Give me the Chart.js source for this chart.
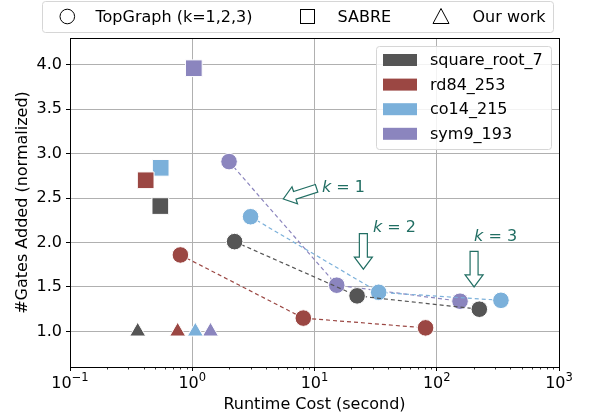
<!DOCTYPE html>
<html>
<head>
<meta charset="utf-8">
<script src="https://cdn.jsdelivr.net/npm/chart.js@4.4.0/dist/chart.umd.min.js"></script>
<style>
  html, body { margin: 0; padding: 0; background: #fff; }
  #wrap { width: 590px; height: 419px; }
</style>
</head>
<body>
<div id="wrap"><canvas id="c" width="590" height="419"></canvas></div>
<script>
const circuits = ['square_root_7', 'rd84_253', 'co14_215', 'sym9_193'];
const colors = ['#555555', '#9b4743', '#7bb0da', '#8b85be'];

// TopGraph, k = 1, 2, 3 (runtime in s, gates normalized)
const topgraphTime = [[2.22, 22.3, 223], [0.80, 8.1, 81], [3.0, 33.5, 335], [2.0, 15.2, 155]];
const topgraphGates = [[2.01, 1.40, 1.25], [1.86, 1.15, 1.04], [2.29, 1.44, 1.35], [2.91, 1.52, 1.34]];
// SABRE
const sabreTime = [0.548, 0.416, 0.552, 1.03];
const sabreGates = [2.41, 2.70, 2.84, 3.96];
// Our work
const oursTime = [0.358, 0.76, 1.06, 1.41];
const oursGates = [1.0, 1.0, 1.0, 1.0];

const xTickValues = [0.1, 1, 10, 100, 1000];
const xTickExponents = ['−1', '0', '1', '2', '3'];
const yTickValues = [1.0, 1.5, 2.0, 2.5, 3.0, 3.5, 4.0];

const shapeLabels = ['TopGraph (k=1,2,3)', 'SABRE', 'Our work'];
const kLabels = ['1', '2', '3'];
// annotation arrows (data coords)
const kArrowFrom = [[10.4, 2.61], [25.1, 2.10], [202, 1.90]];
const kArrowTo = [[5.56, 2.49], [25.1, 1.70], [202, 1.50]];
const kTextAt = [[11.5, 2.62], [30.1, 2.16], [202, 2.06]];

const FONT = "'DejaVu Sans', sans-serif";
const TEAL = '#216e63';

const datasets = [];
circuits.forEach((name, i) => {
  datasets.push({
    label: name,
    data: topgraphTime[i].map((t, j) => ({ x: t, y: topgraphGates[i][j] })),
    showLine: true,
    borderColor: colors[i],
    borderWidth: 1.2,
    borderDash: [4, 3],
    pointStyle: 'circle',
    pointRadius: 8.3,
    pointBackgroundColor: colors[i],
    pointBorderColor: '#ffffff',
    pointBorderWidth: 1
  });
  datasets.push({
    label: name + ' SABRE',
    data: [{ x: sabreTime[i], y: sabreGates[i] }],
    pointStyle: 'rect',
    pointRadius: 11.8,
    pointBackgroundColor: colors[i],
    pointBorderColor: '#ffffff',
    pointBorderWidth: 1
  });
  datasets.push({
    label: name + ' ours',
    data: [{ x: oursTime[i], y: oursGates[i] }],
    pointStyle: 'triangle',
    pointRadius: 9.2,
    pointBackgroundColor: colors[i],
    pointBorderColor: '#ffffff',
    pointBorderWidth: 1
  });
});

function drawArrow(ctx, x0, y0, x1, y1) {
  const dx = x1 - x0, dy = y1 - y0;
  const len = Math.hypot(dx, dy);
  const ux = dx / len, uy = dy / len;
  const nx = -uy, ny = ux;
  const sw = 4, hw = 9, hl = 12;
  const bx = x1 - ux * hl, by = y1 - uy * hl;
  ctx.beginPath();
  ctx.moveTo(x0 + nx * sw, y0 + ny * sw);
  ctx.lineTo(bx + nx * sw, by + ny * sw);
  ctx.lineTo(bx + nx * hw, by + ny * hw);
  ctx.lineTo(x1, y1);
  ctx.lineTo(bx - nx * hw, by - ny * hw);
  ctx.lineTo(bx - nx * sw, by - ny * sw);
  ctx.lineTo(x0 - nx * sw, y0 - ny * sw);
  ctx.closePath();
  ctx.fillStyle = '#ffffff';
  ctx.fill();
  ctx.strokeStyle = TEAL;
  ctx.lineWidth = 1.2;
  ctx.stroke();
}

const extrasPlugin = {
  id: 'extras',
  afterDraw(chart) {
    const ctx = chart.ctx;
    const xs = chart.scales.x, ys = chart.scales.y;
    const area = chart.chartArea;
    ctx.save();

    // minor ticks on log axis
    ctx.strokeStyle = '#000';
    ctx.lineWidth = 0.8;
    for (let d = -1; d < 3; d++) {
      for (let m = 2; m <= 9; m++) {
        const px = Math.round(xs.getPixelForValue(m * Math.pow(10, d))) + 0.5;
        ctx.beginPath();
        ctx.moveTo(px, area.bottom);
        ctx.lineTo(px, area.bottom + 2.5);
        ctx.stroke();
      }
    }

    // x tick labels: 10 with superscript exponent
    ctx.fillStyle = '#000';
    ctx.textBaseline = 'alphabetic';
    ctx.textAlign = 'left';
    xTickValues.forEach((v, i) => {
      const px = xs.getPixelForValue(v);
      ctx.font = '16px ' + FONT;
      const bw = ctx.measureText('10').width;
      ctx.font = '11.5px ' + FONT;
      const ew = ctx.measureText(xTickExponents[i]).width;
      const x0 = px - (bw + ew) / 2;
      const base = area.bottom + 21;
      ctx.font = '16px ' + FONT;
      ctx.fillText('10', x0, base);
      ctx.font = '11.5px ' + FONT;
      ctx.fillText(xTickExponents[i], x0 + bw, base - 7);
    });

    // frame
    ctx.strokeStyle = '#000';
    ctx.lineWidth = 1;
    ctx.strokeRect(Math.round(area.left) + 0.5, Math.round(area.top) + 0.5,
      Math.round(area.right - area.left), Math.round(area.bottom - area.top));

    // k annotations
    for (let i = 0; i < kLabels.length; i++) {
      drawArrow(ctx,
        xs.getPixelForValue(kArrowFrom[i][0]), ys.getPixelForValue(kArrowFrom[i][1]),
        xs.getPixelForValue(kArrowTo[i][0]), ys.getPixelForValue(kArrowTo[i][1]));
      const tx = xs.getPixelForValue(kTextAt[i][0]);
      const ty = ys.getPixelForValue(kTextAt[i][1]);
      ctx.fillStyle = TEAL;
      ctx.textBaseline = 'middle';
      ctx.textAlign = 'left';
      ctx.font = 'italic 16px ' + FONT;
      ctx.fillText('k', tx, ty);
      const kw = ctx.measureText('k').width;
      ctx.font = '16px ' + FONT;
      ctx.fillText(' = ' + kLabels[i], tx + kw, ty);
    }

    // right legend (circuits)
    ctx.beginPath();
    ctx.roundRect(376.5, 46.5, 175, 103, 3);
    ctx.fillStyle = 'rgba(255,255,255,0.85)';
    ctx.fill();
    ctx.strokeStyle = '#d6d6d6';
    ctx.lineWidth = 1;
    ctx.stroke();
    ctx.font = '16px ' + FONT;
    ctx.textBaseline = 'middle';
    ctx.textAlign = 'left';
    circuits.forEach((name, i) => {
      const cy = 60 + i * 24.6;
      ctx.fillStyle = colors[i];
      ctx.fillRect(383, cy - 6, 34, 12);
      ctx.fillStyle = '#000';
      ctx.fillText(name, 430, cy + 1);
    });

    // top legend (shapes)
    ctx.beginPath();
    ctx.roundRect(42.5, 1.5, 511, 31, 3);
    ctx.fillStyle = '#fff';
    ctx.fill();
    ctx.strokeStyle = '#d6d6d6';
    ctx.stroke();
    ctx.strokeStyle = '#000';
    ctx.lineWidth = 1;
    const my = 16.5;
    ctx.beginPath();
    ctx.arc(67.3, my, 7.3, 0, Math.PI * 2);
    ctx.stroke();
    ctx.strokeRect(300.5, my - 7, 14, 14);
    ctx.beginPath();
    ctx.moveTo(441, my - 8);
    ctx.lineTo(449, my + 7);
    ctx.lineTo(433, my + 7);
    ctx.closePath();
    ctx.stroke();
    ctx.fillStyle = '#000';
    ctx.fillText(shapeLabels[0], 95.5, my + 1);
    ctx.fillText(shapeLabels[1], 337.5, my + 1);
    ctx.fillText(shapeLabels[2], 472.5, my + 1);

    ctx.restore();
  }
};

Chart.defaults.font.family = FONT;
Chart.defaults.color = '#000';

new Chart(document.getElementById('c'), {
  type: 'scatter',
  data: { datasets },
  options: {
    responsive: false,
    animation: false,
    events: [],
    layout: { padding: { top: 38, right: 31, left: 0, bottom: 0 } },
    plugins: { legend: { display: false }, tooltip: { enabled: false } },
    scales: {
      x: {
        type: 'logarithmic',
        min: 0.1,
        max: 1000,
        afterBuildTicks: s => { s.ticks = xTickValues.map(v => ({ value: v })); },
        afterFit: s => { s.height = 52; },
        ticks: {
          font: { size: 16 },
          padding: 0,
          maxRotation: 0,
          autoSkip: false,
          callback: () => ''
        },
        grid: { color: '#b0b0b0', lineWidth: 1, tickColor: '#000', tickLength: 4 },
        border: { color: '#000', width: 1 },
        title: {
          display: true,
          text: 'Runtime Cost (second)',
          font: { size: 16 },
          color: '#000',
          padding: { top: 0, bottom: 4.4 }
        }
      },
      y: {
        min: 0.6,
        max: 4.3,
        afterBuildTicks: s => { s.ticks = yTickValues.map(v => ({ value: v })); },
        afterFit: s => { s.width = 70; },
        ticks: {
          font: { size: 16 },
          color: '#000',
          padding: 4,
          callback: v => Number(v).toFixed(1)
        },
        grid: { color: '#b0b0b0', lineWidth: 1, tickColor: '#000', tickLength: 4 },
        border: { color: '#000', width: 1 },
        title: {
          display: true,
          text: '#Gates Added (normalized)',
          font: { size: 16 },
          color: '#000',
          padding: { top: 13.4, bottom: 0 }
        }
      }
    }
  },
  plugins: [extrasPlugin]
});
</script>
</body>
</html>
